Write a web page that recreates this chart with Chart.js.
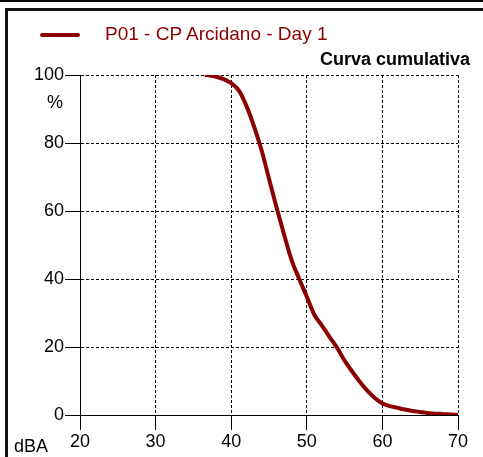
<!DOCTYPE html>
<html>
<head>
<meta charset="utf-8">
<script src="https://cdn.jsdelivr.net/npm/chart.js@4.4.0/dist/chart.umd.min.js"></script>
<style>
  html, body { margin: 0; padding: 0; background: #fff; }
  #wrap { position: relative; width: 483px; height: 457px; overflow: hidden; font-family: "Liberation Sans", Arial, sans-serif; }
  #wrap canvas { position: absolute; left: 0; top: 0; }
  .lbl { position: absolute; font-size: 18px; line-height: 20px; white-space: nowrap; color: #000; }
  #topbar { position: absolute; left: 0; top: 0; width: 483px; height: 2px; background: #000; }
  #frame { position: absolute; left: 5px; top: 8px; width: 490px; height: 460px; border-top: 3px solid #111; border-left: 3px solid #111; }
  #legline { position: absolute; left: 40px; top: 33px; width: 40px; height: 4px; background: #8b0000; border-radius: 2px; }
</style>
</head>
<body>
<div id="wrap">
  <canvas id="cumChart" width="483" height="457"></canvas>
  <div id="topbar"></div>
  <div id="frame"></div>
  <div id="legline"></div>
  <div class="lbl" style="left:105px; top:24px; font-size:19px; color:#8b0000;">P01 - CP Arcidano - Day 1</div>
  <div class="lbl" style="right:13px; top:49px; font-weight:bold;">Curva cumulativa</div>
  <div class="lbl" style="left:47px; top:92px;">%</div>
  <div class="lbl" style="left:14px; top:436px;">dBA</div>
</div>
<script>
// livelli dBA e percentuale cumulativa
var dbaLevels = [36.5, 37, 38, 39, 40, 41, 42, 43, 44, 45, 46, 47, 48, 49, 50, 51, 52, 53,
    54, 55, 56, 57, 58, 59, 60, 61, 62, 63, 64, 65, 66, 67, 68, 69, 70];
var cumPct = [100, 99.9, 99.5, 98.8, 97.6, 95.5, 91, 85, 78, 69.5, 61, 53, 45.5, 40, 34.8, 29.5, 26.3, 23,
    19.8, 16, 12.8, 9.8, 7.2, 5, 3.4, 2.6, 2.1, 1.6, 1.2, 0.9, 0.6, 0.4, 0.3, 0.15, 0];

var xTicks = [20, 30, 40, 50, 60, 70];
var yTicks = [0, 20, 40, 60, 80, 100];

var points = dbaLevels.map(function(x, i) {
    return { x: x, y: cumPct[i] };
});

var tickFont = { family: "Liberation Sans", size: 18 };

var ctx = document.getElementById("cumChart").getContext('2d');
var cumChart = new Chart(ctx, {
    type: 'line',
    data: {
        datasets: [
            {
                label: 'P01 - CP Arcidano - Day 1',
                data: points,
                borderColor: '#8b0000',
                borderWidth: 4,
                pointRadius: 0,
                tension: 0.3,
                cubicInterpolationMode: 'monotone',
                fill: false
            }
        ]
    },
    options: {
        responsive: false,
        animation: false,
        layout: {
            padding: { left: 0, top: 75, right: 25, bottom: 0 }
        },
        plugins: {
            legend: { display: false },
            title: { display: false },
            tooltip: { enabled: false }
        },
        scales: {
            x: {
                type: 'linear',
                min: 20,
                max: 70,
                afterFit: function(scale) { scale.height = 42; },
                afterBuildTicks: function(scale) {
                    scale.ticks = xTicks.map(function(v) { return { value: v }; });
                },
                ticks: { color: '#000', font: tickFont, padding: 1, maxRotation: 0 },
                grid: {
                    color: '#000',
                    lineWidth: 1,
                    tickLength: 15,
                    tickColor: '#000',
                    tickBorderDash: [1, 0]
                },
                border: { display: true, color: '#000', width: 1, dash: [3, 2] }
            },
            y: {
                min: 0,
                max: 100,
                afterFit: function(scale) { scale.width = 80; },
                afterBuildTicks: function(scale) {
                    scale.ticks = yTicks.map(function(v) { return { value: v }; });
                },
                ticks: { color: '#000', font: tickFont, padding: 1 },
                grid: {
                    color: '#000',
                    lineWidth: 1,
                    tickLength: 15,
                    tickColor: '#000',
                    tickBorderDash: [1, 0]
                },
                border: { display: true, color: '#000', width: 1, dash: [3, 2] }
            }
        }
    }
});
</script>
</body>
</html>
